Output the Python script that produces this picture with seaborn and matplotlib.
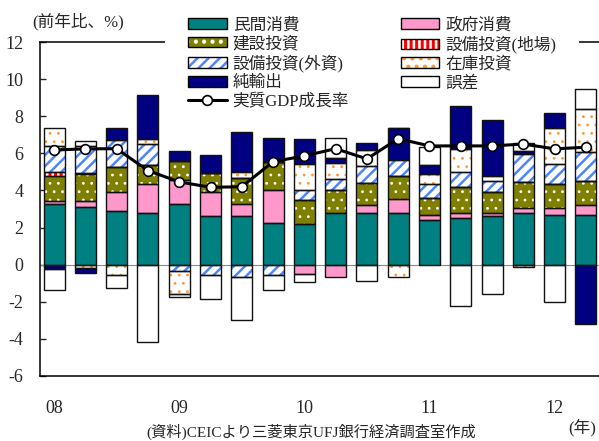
import numpy as np
import pandas as pd
import seaborn as sns
import matplotlib.pyplot as plt
from matplotlib.patches import Patch
from matplotlib.lines import Line2D

sns.set_style("ticks")
plt.rcParams["font.family"] = ["Liberation Serif", "Noto Sans CJK JP", "DejaVu Sans"]
plt.rcParams["axes.unicode_minus"] = False
plt.rcParams["hatch.linewidth"] = 1.8

# quarterly, 2008Q1 - 2012Q2
quarters = ["08Q1", "08Q2", "08Q3", "08Q4", "09Q1", "09Q2", "09Q3", "09Q4",
            "10Q1", "10Q2", "10Q3", "10Q4", "11Q1", "11Q2", "11Q3", "11Q4",
            "12Q1", "12Q2"]
year_labels = ["08", "09", "10", "11", "12"]

private_cons = [3.25, 3.09, 2.91, 2.77, 3.29, 2.61, 2.61, 2.25, 2.19, 2.77,
                2.80, 2.77, 2.43, 2.52, 2.61, 2.77, 2.68, 2.68]
gov_cons = [0.20, 0.36, 1.02, 1.56, 1.27, 1.29, 0.68, 1.80, -0.52, -0.65,
            0.42, 0.77, 0.25, 0.29, 0.20, 0.31, 0.40, 0.54]
construction = [1.33, 1.42, 1.31, 1.02, 1.03, 1.02, 1.38, 1.49, 1.30, 1.26,
                1.16, 1.24, 0.90, 1.38, 1.11, 1.40, 1.26, 1.31]
equip_local = [0.23, 0.05, 0, 0, 0, 0, 0, 0, 0, 0, 0, 0, 0, 0, 0, 0, 0, 0]
equip_foreign = [1.40, 1.49, 1.47, 1.15, -0.32, -0.56, -0.65, -0.56, 0.54, 0.59,
                 0.94, 0.86, 0.75, 0.81, 0.59, 1.49, 1.08, 1.56]
inventory = [0.97, -0.20, -0.57, 0.27, -1.28, 0, 0.34, 0, 1.40, 0.84,
             0.86, -0.65, 0.54, 1.26, 0.25, -0.15, 1.94, 2.28]
net_exports = [-0.22, -0.25, 0.65, 2.38, 0.54, 0.97, 2.12, 1.26, 1.33, 0.27,
               0.36, 1.75, 0.50, 2.28, 3.05, 0.16, 0.81, -3.22]
errors = [-1.15, 0.27, -0.71, -4.15, -0.14, -1.27, -2.33, -0.81, -0.43, 1.12,
          -0.90, 0, 0.99, -2.21, -1.58, 0.45, -2.00, 1.10]
gdp = [6.18, 6.24, 6.25, 5.07, 4.46, 4.17, 4.20, 5.55, 5.86, 6.25,
       5.70, 6.79, 6.40, 6.40, 6.40, 6.50, 6.24, 6.33]

# name, values, face, hatch colour, hatch, hatch line width
components = [
    ("民間消費", private_cons, "#008080", None, None, 0),
    ("政府消費", gov_cons, "#FF99CC", None, None, 0),
    ("建設投資", construction, "#808000", "white", "..", 0.8),
    ("設備投資(地場)", equip_local, "#FF0000", "white", "|||", 1.8),
    ("設備投資(外資)", equip_foreign, "white", "#4C85FF", "///", 1.8),
    ("在庫投資", inventory, "white", "#FF9933", "..", 0.8),
    ("純輸出", net_exports, "#000080", None, None, 0),
    ("誤差", errors, "white", None, None, 0),
]

x = np.arange(len(quarters))
width = 0.67

fig = plt.figure(figsize=(5.99, 4.41), dpi=100)
ax = fig.add_axes([40 / 599, 1 - 376 / 441, 560 / 599, 334 / 441])

ax.axhline(0, color="#888888", lw=0.8, zorder=1)

pos_base = np.zeros(len(x))
neg_base = np.zeros(len(x))
handles = []
labels = []
for name, vals, face, hcol, hatch, hlw in components:
    v = np.array(vals, dtype=float)
    bottom = np.where(v >= 0, pos_base, neg_base)
    if hatch:
        with plt.rc_context({"hatch.linewidth": hlw}):
            ax.bar(x, v, width, bottom=bottom, color=face, edgecolor=hcol,
                   hatch=hatch, linewidth=0, zorder=2)
            h = (Patch(facecolor=face, edgecolor=hcol, hatch=hatch, lw=0),
                 Patch(facecolor="none", edgecolor="black", lw=1.0))
    else:
        ax.bar(x, v, width, bottom=bottom, color=face, linewidth=0, zorder=2)
        h = Patch(facecolor=face, edgecolor="black", lw=1.0)
    ax.bar(x, v, width, bottom=bottom, fill=False, edgecolor="#111111",
           linewidth=1.0, zorder=3)
    pos_base = pos_base + np.where(v > 0, v, 0)
    neg_base = neg_base + np.where(v < 0, v, 0)
    handles.append(h)
    labels.append(name)

df = pd.DataFrame({"x": x, "gdp": gdp})
sns.lineplot(data=df, x="x", y="gdp", ax=ax, color="black", lw=2.2,
             marker="o", markersize=7, markerfacecolor="white",
             markeredgecolor="black", markeredgewidth=1.2, zorder=5)

gdp_handle = Line2D([], [], color="black", lw=2.2, marker="o", markersize=7,
                    markerfacecolor="white", markeredgecolor="black",
                    markeredgewidth=1.2)

# legend order: column 1 then column 2
col1 = [0, 2, 4, 6]
col2 = [1, 3, 5, 7]
leg_h = [handles[i] for i in col1] + [gdp_handle] + [handles[i] for i in col2]
leg_l = [labels[i] for i in col1] + ["実質GDP成長率"] + [labels[i] for i in col2]

leg = ax.legend(leg_h, leg_l, ncol=2, loc="upper left",
                bbox_to_anchor=(165 / 599, 1 + 6 / 441),
                bbox_transform=fig.transFigure, frameon=True,
                facecolor="white", edgecolor="none", framealpha=1,
                fancybox=False, fontsize=12, handlelength=2.3,
                handleheight=0.6, handletextpad=0.36, labelspacing=0.16,
                columnspacing=3.1, borderpad=1.4, borderaxespad=0)
# legend box sits behind the bars but hides the top frame line
leg.set_zorder(1.5)
ax.spines["top"].set_zorder(1.2)

ax.set_xlim(-0.45, len(x) - 0.55)
ax.set_ylim(-6, 12)
ax.set_yticks(range(-6, 13, 2))
ax.set_xticks(x[::4])
ax.set_xticklabels(year_labels)
ax.set_xlabel("")
ax.set_ylabel("")
ax.tick_params(axis="y", direction="in", length=4, width=1, pad=12, labelsize=13)
ax.tick_params(axis="x", length=0, pad=17, labelsize=13)
for s in ["left", "bottom", "top"]:
    ax.spines[s].set_linewidth(1.1)
    ax.spines[s].set_color("black")
ax.spines["right"].set_visible(False)

fig.text(32 / 599, 1 - 22 / 441, "(前年比、%)", fontsize=12, va="center", ha="left")
fig.text(582 / 599, 1 - 428 / 441, "(年)", fontsize=12, va="center", ha="center")
fig.text(311 / 599, 1 / 441, "(資料)CEICより三菱東京UFJ銀行経済調査室作成",
         fontsize=11, va="bottom", ha="center")

fig.savefig("out.png", dpi=100)
